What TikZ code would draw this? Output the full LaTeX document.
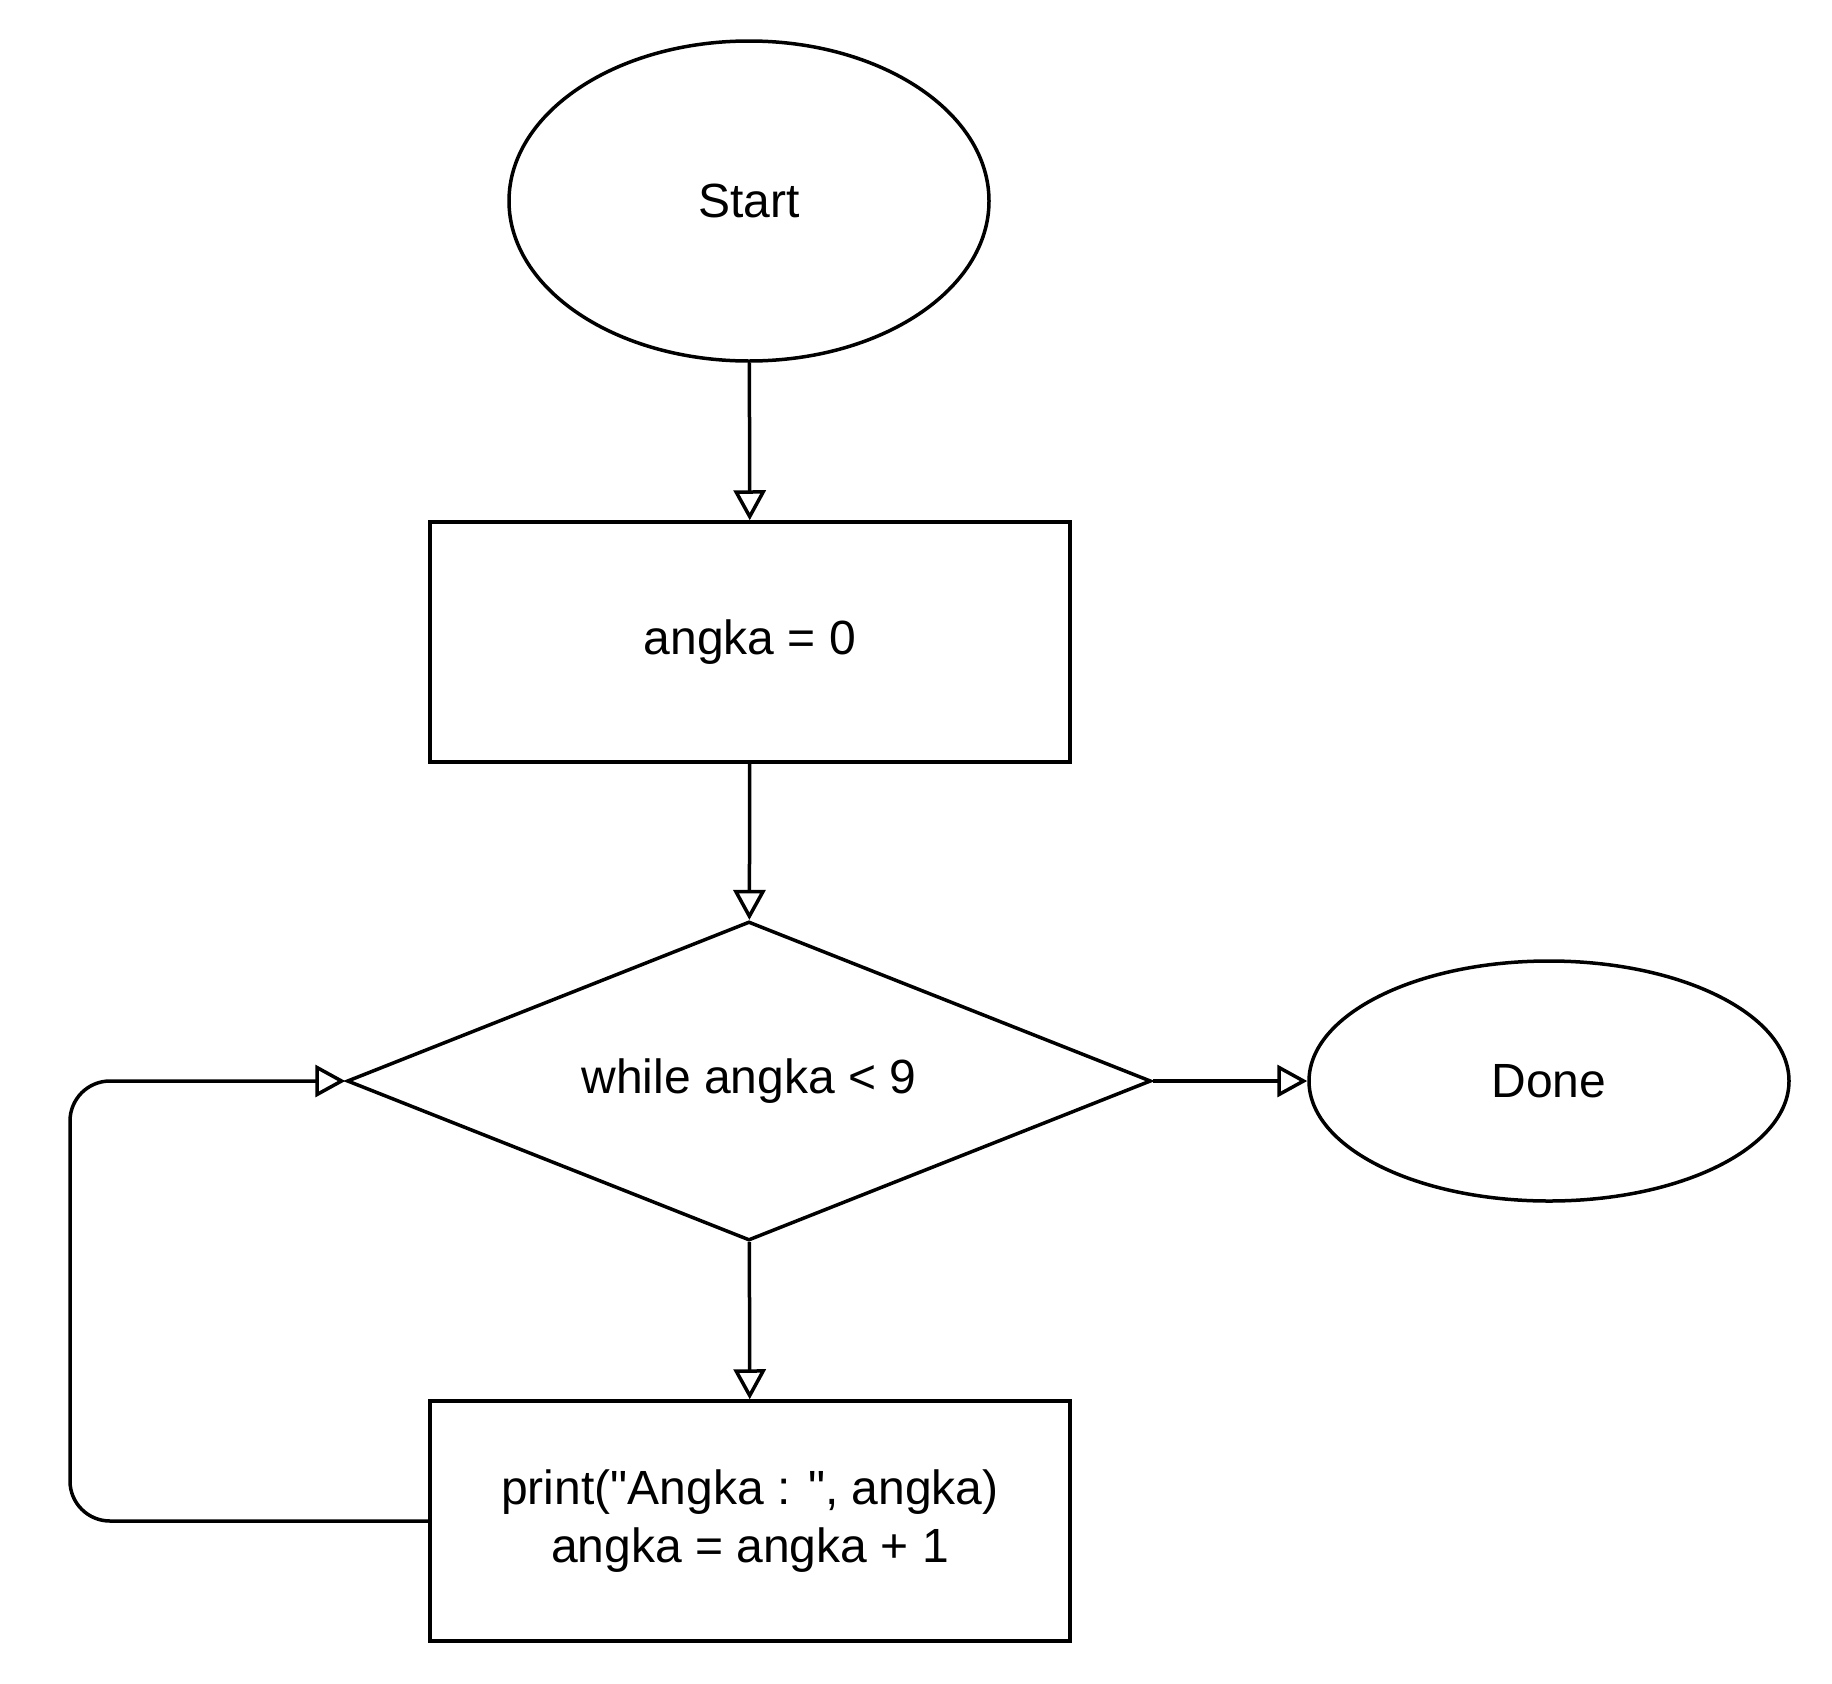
\documentclass[tikz,border=0pt]{standalone}
\usepackage{fontspec}
\setmainfont{Liberation Sans}[Ligatures=TeXOff]
\usetikzlibrary{shapes.geometric,arrows.meta}
\begin{document}
\begin{tikzpicture}[x=1pt,y=-1pt,
  every node/.style={font=\fontsize{48}{58}\selectfont, align=center, line width=3.5pt, draw, inner sep=0pt},
  term/.style={ellipse},
  proc/.style={rectangle, minimum width=640pt, minimum height=240pt},
  cond/.style={diamond, aspect=2.52, minimum width=804pt, minimum height=319pt},
  flow/.style={line width=3.5pt, -{Triangle[open,length=30pt,width=32pt]}}
]
\useasboundingbox (0,0) rectangle (1832,1684);
\node[term, minimum width=480pt, minimum height=320pt] (start) at (749,201) {Start};
\node[proc] (init) at (750,642) {angka = 0};
\node[cond] (loop) at (749,1081) {while angka < 9};
\node[term, minimum width=480pt, minimum height=240pt] (done) at (1549,1081) {Done};
\node[proc] (body) at (750,1521) {print("Angka : ", angka)\\angka = angka + 1};
\coordinate (lb) at (70,1521);
\coordinate (lt) at (70,1081);
\draw[flow] (start) -- (init);
\draw[flow] (init) -- (loop);
\draw[flow] (loop) -- (body);
\draw[flow] (loop.east) -- (done.west);
\draw[flow, rounded corners=40pt] (body.west) -- (lb) -- (lt) -- (loop.west);
\end{tikzpicture}
\end{document}
